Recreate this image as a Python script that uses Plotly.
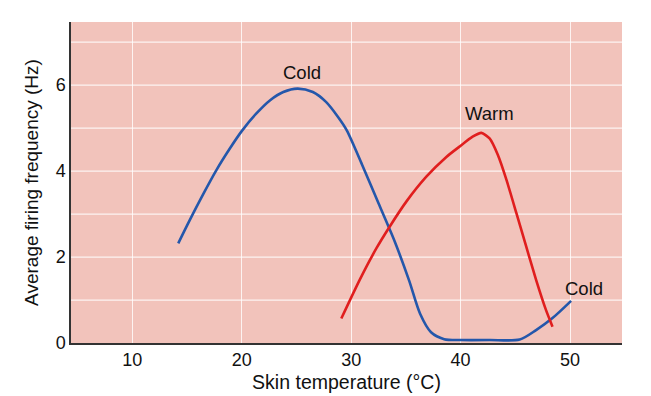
import plotly.graph_objects as go

# Cold receptor curve (skin temperature °C, firing Hz)
cold_x = [14.2, 15.25, 16.47, 17.7, 18.9, 20.0, 21.3, 22.6, 23.8, 25.1, 26.5, 27.7, 28.8, 29.6,
          31.0, 32.5, 34.0, 35.3, 36.3, 37.3, 38.5, 40.0, 42.65, 45.4, 46.9, 48.4, 50.1]
cold_y = [2.32, 2.86, 3.46, 4.03, 4.52, 4.93, 5.33, 5.65, 5.84, 5.92, 5.84, 5.61, 5.26, 4.95,
          4.15, 3.25, 2.35, 1.45, 0.68, 0.25, 0.09, 0.07, 0.07, 0.08, 0.30, 0.58, 0.98]

# Warm receptor curve
warm_x = [29.1, 30.78, 32.3, 33.5, 35.04, 36.87, 38.7, 39.9, 41.1, 41.9, 42.65, 43.4, 44.2,
          45.1, 46.0, 46.9, 47.8, 48.4]
warm_y = [0.57, 1.47, 2.20, 2.70, 3.29, 3.87, 4.33, 4.57, 4.80, 4.89, 4.76, 4.38, 3.79,
          3.02, 2.24, 1.47, 0.77, 0.38]

x_ticks = [10, 20, 30, 40, 50]
y_ticks = [0, 2, 4, 6]

labels = [("Cold", 25.5, 6.3), ("Warm", 42.6, 5.33), ("Cold", 51.3, 1.26)]

FONT = "Liberation Sans, Arial, sans-serif"

fig = go.Figure()
fig.add_trace(go.Scatter(x=cold_x, y=cold_y, mode="lines",
                         line=dict(color="#2457ab", width=2.6, shape="spline", smoothing=0.8),
                         showlegend=False, hoverinfo="skip"))
fig.add_trace(go.Scatter(x=warm_x, y=warm_y, mode="lines",
                         line=dict(color="#e01e1e", width=2.6, shape="spline", smoothing=0.6),
                         showlegend=False, hoverinfo="skip"))

for text, lx, ly in labels:
    fig.add_annotation(x=lx, y=ly, text=text, showarrow=False,
                       font=dict(family=FONT, size=18.5, color="#111111"))

fig.update_layout(
    width=651, height=396,
    margin=dict(l=71, r=29, t=22, b=53),
    paper_bgcolor="white",
    plot_bgcolor="#f2c3bb",
    font=dict(family=FONT, color="#111111"),
)
fig.update_xaxes(range=[4.4, 54.75], tickvals=x_ticks, ticktext=[str(v) for v in x_ticks],
                 showgrid=True, gridcolor="rgba(255,255,255,0.8)", gridwidth=1.2,
                 zeroline=False, showline=True, linecolor="#333333", linewidth=1.5,
                 ticks="", tickfont=dict(size=18), automargin=False,
                 title=dict(text="Skin temperature (°C)", font=dict(size=19.5), standoff=6))
fig.update_yaxes(range=[0, 7.47], tickvals=y_ticks, ticktext=[str(v) for v in y_ticks],
                 showgrid=False, zeroline=False, showline=True, linecolor="#333333", linewidth=1.5,
                 ticks="", tickfont=dict(size=18), automargin=False,
                 title=dict(text="Average firing frequency (Hz)", font=dict(size=19), standoff=12))

# horizontal white grid every 1 Hz
for gy in range(1, 8):
    fig.add_shape(type="line", xref="paper", x0=0, x1=1, yref="y", y0=gy, y1=gy,
                  line=dict(color="rgba(255,255,255,0.8)", width=1.2), layer="below")

fig.write_html("out.html", config={"displayModeBar": False},
               post_script="document.body.style.margin='0';document.body.style.padding='0';")
